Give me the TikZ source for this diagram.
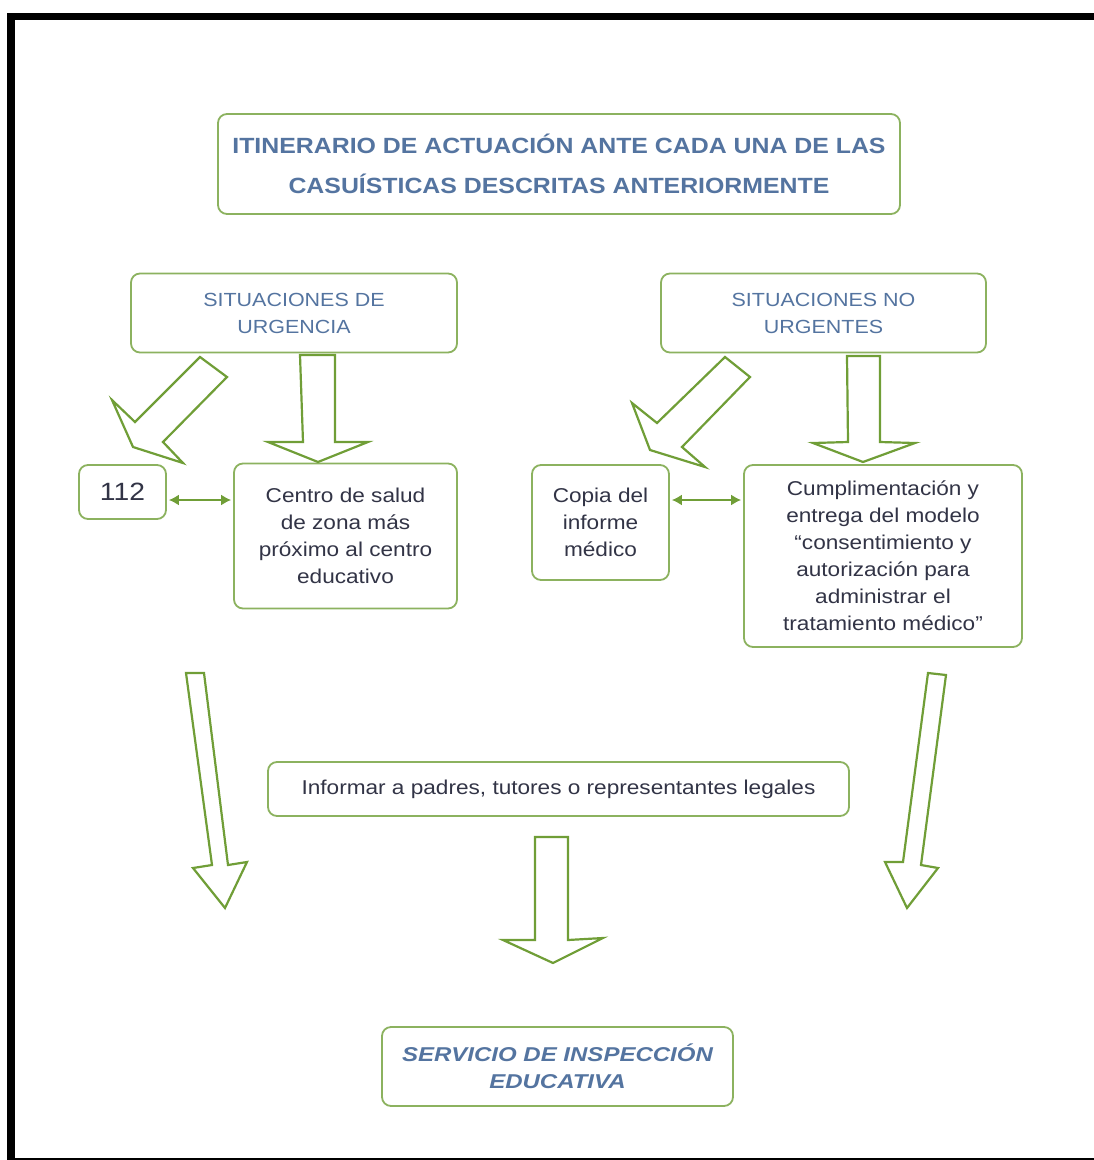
\documentclass[tikz,border=0pt]{standalone}
\usepackage{fontspec}
\setmainfont[FakeStretch=1.13]{Liberation Sans}
\newfontfamily\servfont[FakeStretch=1.2]{Liberation Sans}
\usetikzlibrary{arrows.meta}
\definecolor{boxgreen}{RGB}{140,178,95}
\definecolor{arrgreen}{RGB}{112,158,55}
\definecolor{titleblue}{RGB}{84,116,160}
\definecolor{bodytext}{RGB}{50,52,70}
\begin{document}
\begin{tikzpicture}[x=1pt,y=-1pt,
  box/.style={draw=boxgreen,line width=1.8pt,rounded corners=9pt,fill=white,inner sep=0pt,align=center,text=bodytext,font=\fontsize{20}{27}\selectfont},
  hdr/.style={box,text=titleblue,font=\fontsize{19}{27}\selectfont},
  blk/.style={draw=arrgreen,line width=2.2pt,fill=white},
  dbl/.style={arrgreen,line width=1.6pt,shorten <=2pt,shorten >=2pt,{Latex[length=10pt,width=11pt]}-{Latex[length=10pt,width=11pt]}}]
\useasboundingbox (0,0) rectangle (1094,1160);
% frame
\fill[black] (7,13) rectangle (1094,20);
\fill[black] (7,13) rectangle (15,1160);
\fill[black] (7,1158) rectangle (1094,1160);
% boxes
\node[box,minimum width=682pt,minimum height=100pt,text=titleblue,font=\bfseries\fontsize{22}{40}\selectfont] (title) at (559,164)
  {ITINERARIO DE ACTUACIÓN ANTE CADA UNA DE LAS\\CASUÍSTICAS DESCRITAS ANTERIORMENTE};
\node[hdr,minimum width=326pt,minimum height=79pt] (urg) at (294,313) {SITUACIONES DE\\URGENCIA};
\node[hdr,minimum width=325pt,minimum height=79pt] (nourg) at (823.5,313) {SITUACIONES NO\\URGENTES};
\node[box,minimum width=87pt,minimum height=54pt,font=\fontsize{25}{27}\selectfont] (n112) at (122.5,492) {112};
\node[box,minimum width=223pt,minimum height=145pt] (centro) at (345.5,536)
  {Centro de salud\\de zona más\\próximo al centro\\educativo};
\node[box,minimum width=137pt,minimum height=115pt] (copia) at (600.5,522.5)
  {Copia del\\informe\\médico};
\node[box,minimum width=278pt,minimum height=182pt] (cumpl) at (883,556)
  {Cumplimentación y\\entrega del modelo\\“consentimiento y\\autorización para\\administrar el\\tratamiento médico”};
\node[box,minimum width=581pt,minimum height=54pt] (inform) at (558.5,789)
  {Informar a padres, tutores o representantes legales};
\node[box,minimum width=351pt,minimum height=79pt,text=titleblue,font=\servfont\bfseries\itshape\fontsize{20}{27}\selectfont] (serv) at (557.5,1066.5)
  {SERVICIO DE INSPECCIÓN\\EDUCATIVA};
% double arrows
\draw[dbl] (n112.east |- 0,500) -- (centro.west |- 0,500);
\draw[dbl] (copia.east |- 0,500) -- (cumpl.west |- 0,500);
% block arrows
\draw[blk] (200,357) -- (227,377) -- (163,442) -- (183,463) -- (133,447) -- (112,400) -- (135,422) -- cycle;
\draw[blk] (300,355) -- (335,355) -- (335,442) -- (368,442) -- (318,462) -- (268,442) -- (303,442) -- cycle;
\draw[blk] (725,357) -- (750,377) -- (682,447) -- (705,467) -- (650,450) -- (632,403) -- (657,423) -- cycle;
\draw[blk] (847,356) -- (880,356) -- (880,442) -- (915,443) -- (863,462) -- (813,443) -- (848,442) -- cycle;
\draw[blk] (186,673) -- (204,673) -- (228,865) -- (247,862) -- (225,908) -- (193,868) -- (212,865) -- cycle;
\draw[blk] (928,673) -- (946,675) -- (921,865) -- (938,868) -- (907,908) -- (885,862) -- (903,862) -- cycle;
\draw[blk] (535,837) -- (568,837) -- (568,940) -- (603,938) -- (553,963) -- (503,940) -- (535,940) -- cycle;
\end{tikzpicture}
\end{document}
